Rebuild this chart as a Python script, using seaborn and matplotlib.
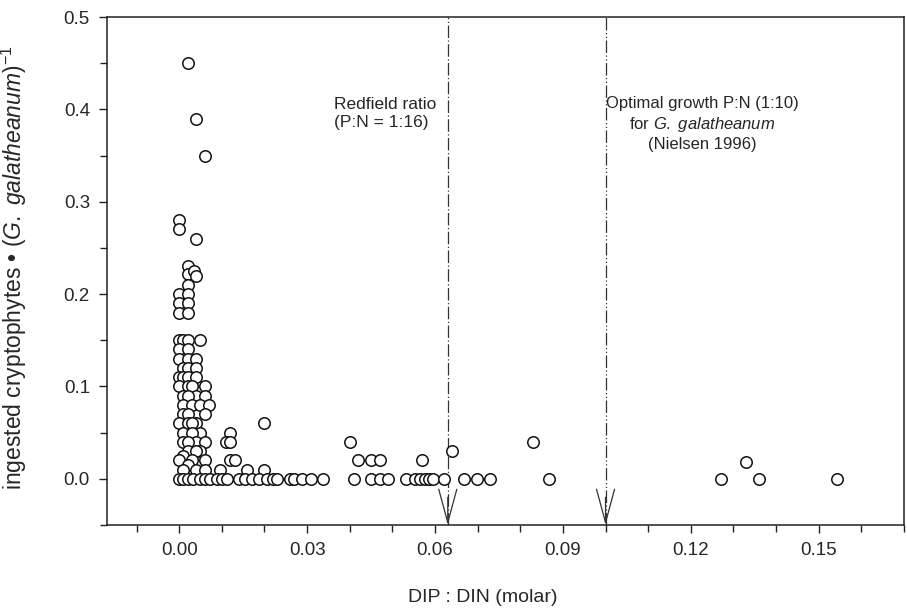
import matplotlib
matplotlib.use("Agg")
import matplotlib.pyplot as plt
import seaborn as sns
import pandas as pd
from matplotlib.ticker import MultipleLocator, FormatStrFormatter
from matplotlib.patches import ArrowStyle

# ---- data ----
# points with non-zero ingestion
dip_din_pos = [0.002, 0.004, 0.006, 0.000, 0.000, 0.004,
               0.002, 0.002, 0.0035, 0.004, 0.002,
               0.000, 0.002, 0.000, 0.002, 0.000, 0.002,
               0.000, 0.001, 0.002, 0.005,
               0.000, 0.002, 0.000, 0.002, 0.004,
               0.001, 0.002, 0.004,
               0.000, 0.001, 0.002, 0.004,
               0.000, 0.002, 0.006, 0.003,
               0.001, 0.004, 0.006, 0.002,
               0.001, 0.003, 0.005, 0.007,
               0.001, 0.006, 0.002,
               0.000, 0.002, 0.004, 0.020, 0.003,
               0.001, 0.005, 0.012, 0.003,
               0.001, 0.004, 0.006, 0.011, 0.012, 0.002,
               0.002, 0.005, 0.004, 0.001,
               0.000, 0.003, 0.006, 0.012, 0.013, 0.002,
               0.001, 0.0095, 0.016, 0.020, 0.004, 0.006,
               0.040, 0.042, 0.045, 0.047, 0.057, 0.064, 0.083, 0.133]
ingested_pos = [0.45, 0.39, 0.35, 0.28, 0.27, 0.26,
                0.23, 0.222, 0.225, 0.22, 0.21,
                0.20, 0.20, 0.19, 0.19, 0.18, 0.18,
                0.15, 0.15, 0.15, 0.15,
                0.14, 0.14, 0.13, 0.13, 0.13,
                0.12, 0.12, 0.12,
                0.11, 0.11, 0.11, 0.11,
                0.10, 0.10, 0.10, 0.10,
                0.09, 0.09, 0.09, 0.09,
                0.08, 0.08, 0.08, 0.08,
                0.07, 0.07, 0.07,
                0.06, 0.06, 0.06, 0.06, 0.06,
                0.05, 0.05, 0.05, 0.05,
                0.04, 0.04, 0.04, 0.04, 0.04, 0.04,
                0.03, 0.03, 0.03, 0.025,
                0.02, 0.02, 0.02, 0.02, 0.02, 0.015,
                0.01, 0.01, 0.01, 0.01, 0.01, 0.01,
                0.04, 0.02, 0.02, 0.02, 0.02, 0.03, 0.04, 0.018]
# points with zero ingestion
dip_din_zero = [0.000, 0.001, 0.002, 0.0033, 0.005, 0.006, 0.0073, 0.0089,
                0.010, 0.0113, 0.014, 0.0155, 0.017, 0.0188, 0.0207, 0.0219,
                0.0230, 0.0261, 0.0270, 0.0289, 0.0310, 0.0338, 0.0409,
                0.0449, 0.047, 0.0489, 0.0531, 0.0552, 0.0564, 0.0576,
                0.0585, 0.0595, 0.0620, 0.0667, 0.0698, 0.0728, 0.0867,
                0.1271, 0.1361, 0.1543]
ingested_zero = [0.0] * len(dip_din_zero)

redfield_ratio = 0.063     # P:N = 1:16 (as drawn)
optimal_ratio = 0.100      # P:N = 1:10

df = pd.DataFrame({"DIP:DIN": dip_din_pos + dip_din_zero,
                   "ingested": ingested_pos + ingested_zero})

# ---- style ----
sns.set_style("ticks")
plt.rcParams["font.family"] = ["Liberation Sans", "DejaVu Sans"]
plt.rcParams["mathtext.fontset"] = "custom"
plt.rcParams["mathtext.rm"] = "Liberation Sans"
plt.rcParams["mathtext.it"] = "Liberation Sans:italic"
plt.rcParams["mathtext.bf"] = "Liberation Sans:bold"

fig = plt.figure(figsize=(9.07, 6.14), dpi=100)
ax = fig.add_axes([0.1176, 0.145, 0.8791, 0.8273])

sns.scatterplot(data=df, x="DIP:DIN", y="ingested", ax=ax,
                s=68, facecolor="white", edgecolor="#111111",
                linewidth=1.1, zorder=3, legend=False)

ax.set_xlim(-0.017, 0.17)
ax.set_ylim(-0.05, 0.5)

ax.xaxis.set_major_locator(MultipleLocator(0.03))
ax.xaxis.set_minor_locator(MultipleLocator(0.01))
ax.yaxis.set_major_locator(MultipleLocator(0.1))
ax.yaxis.set_minor_locator(MultipleLocator(0.05))
ax.xaxis.set_major_formatter(FormatStrFormatter("%.2f"))
ax.yaxis.set_major_formatter(FormatStrFormatter("%.1f"))
ax.tick_params(axis="both", which="major", direction="out", length=6,
               width=1.0, labelsize=13.5, color="#222222", pad=6)
ax.tick_params(axis="both", which="minor", direction="out", length=5,
               width=1.0, color="#222222")
for sp in ax.spines.values():
    sp.set_linewidth(1.1)
    sp.set_color("#222222")
    sp.set_visible(True)

ax.set_xlabel("DIP : DIN (molar)", fontsize=14)
ax.set_ylabel("ingested cryptophytes \u2022 ($\\it{G.\\ galatheanum}$)$^{-1}$",
              fontsize=16.5)
ax.xaxis.set_label_coords(0.472, -0.127)
ax.yaxis.set_label_coords(-0.097, 0.506)

# reference lines
ax.axvline(redfield_ratio, color="#333333", lw=0.9,
           linestyle=(0, (10, 2, 1, 2)), zorder=2)
ax.axvline(optimal_ratio, color="#333333", lw=0.9,
           linestyle=(0, (10, 2, 1, 2, 1, 2)), zorder=2)
for xv in (redfield_ratio, optimal_ratio):
    ax.annotate("", xy=(xv, -0.05), xytext=(xv, -0.02),
                arrowprops=dict(arrowstyle=ArrowStyle("->", head_length=2.4,
                                                      head_width=0.65),
                                mutation_scale=10, color="#333333", lw=0.9,
                                shrinkA=0, shrinkB=0), zorder=2)

ax.text(0.0362, 0.396, "Redfield ratio\n(P:N = 1:16)", ha="left",
        va="center", fontsize=12.5, linespacing=1.25)
ax.text(0.1227, 0.384,
        "Optimal growth P:N (1:10)\nfor $\\it{G.\\ galatheanum}$\n(Nielsen 1996)",
        ha="center", va="center", multialignment="center", fontsize=12,
        linespacing=1.25)

fig.savefig("out.png", dpi=100)
